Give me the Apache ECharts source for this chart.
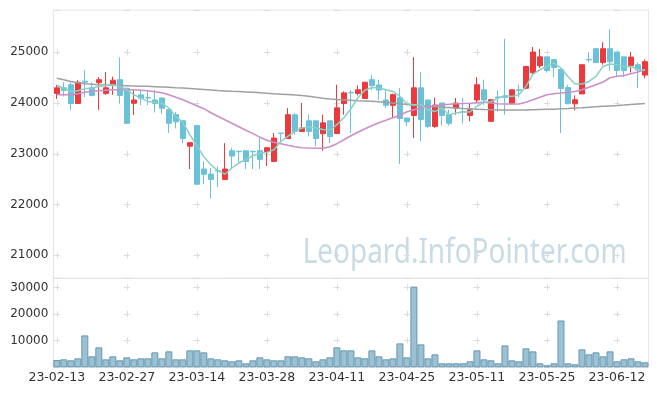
<!DOCTYPE html>
<html><head><meta charset="utf-8">
<script src="https://cdn.jsdelivr.net/npm/echarts@6/dist/echarts.min.js"></script>
<style>html,body{margin:0;padding:0;background:#fff}#c{width:657px;height:396px}</style>
</head><body><div id="c"></div>
<script>
const dates = ['23-02-13','23-02-14','23-02-15','23-02-16','23-02-17','23-02-20','23-02-21','23-02-22','23-02-23','23-02-24','23-02-27','23-02-28',
'23-03-02','23-03-03','23-03-06','23-03-07','23-03-08','23-03-09','23-03-10','23-03-13','23-03-14','23-03-15','23-03-16','23-03-17','23-03-20','23-03-21','23-03-22','23-03-23','23-03-24','23-03-27','23-03-28','23-03-29','23-03-30','23-03-31',
'23-04-03','23-04-04','23-04-05','23-04-06','23-04-07','23-04-10','23-04-11','23-04-12','23-04-13','23-04-14','23-04-17','23-04-18','23-04-19','23-04-20','23-04-21','23-04-24','23-04-25','23-04-26','23-04-27','23-04-28',
'23-05-02','23-05-03','23-05-04','23-05-08','23-05-09','23-05-10','23-05-11','23-05-12','23-05-15','23-05-16','23-05-17','23-05-18','23-05-19','23-05-22','23-05-23','23-05-24','23-05-25','23-05-26','23-05-30','23-05-31',
'23-06-01','23-06-02','23-06-05','23-06-07','23-06-08','23-06-09','23-06-12','23-06-13','23-06-14','23-06-15','23-06-16'];

const opens = [24190,24300,24360,23990,24430,24300,24400,24190,24355,24460,24290,23995,24160,24110,24060,24100,23870,23770,23650,23150,23555,22700,22600,22670,22495,23060,23050,23060,23050,23060,23045,22850,23410,23300,23770,23440,23650,23650,23395,23650,23400,23990,24210,24190,24090,24460,24355,24060,23955,24105,23705,23755,24300,24060,23540,24000,23770,23900,23830,23755,24060,24260,23640,24120,24140,23985,24260,24290,24600,24735,24910,24855,24660,24305,23985,24180,24860,25070,24800,25070,25005,24910,24735,24755,24550];
const closes = [24300,24250,23990,24410,24410,24150,24460,24300,24450,24150,23600,24060,24090,24100,23990,23895,23600,23630,23300,23220,22400,22595,22495,22660,22700,22955,23040,22850,23040,22890,23120,23310,23400,23770,23440,23510,23440,23300,23610,23340,23905,24200,24200,24260,24410,24345,24255,23955,24165,23695,23630,24300,23675,23540,23960,23755,23600,24000,23820,23870,24360,24060,24065,24100,24110,24260,24250,24720,25005,24910,24640,24700,24285,23985,24065,24755,24850,24800,25070,24815,24640,24640,24905,24650,24815];
const lows = [24080,24130,23860,23990,24120,24130,23865,24160,24160,23990,23590,23765,23960,23960,23815,23790,23410,23500,23210,22700,22390,22400,22115,22345,22495,22700,22800,22700,22700,22700,22760,22850,23210,23300,23375,23440,23340,23145,23060,23210,23400,23770,23410,24150,24090,24260,24060,23900,23705,22800,23540,23310,23250,23510,23510,23555,23555,23770,23600,23640,24000,23965,23635,23830,23770,23985,24110,24270,24555,24690,24600,24510,23410,23985,23860,24180,24800,24800,24755,24640,24510,24510,24600,24295,24490];
const highs = [24360,24410,24410,24450,24650,24410,24510,24610,24520,24900,24300,24250,24255,24255,24255,24100,23870,23820,23670,23220,23560,22850,22720,22750,23210,23115,23060,23060,23060,23310,23120,23410,23410,23900,23800,24000,23770,23650,23770,23650,24360,24230,24255,24345,24420,24555,24460,24255,24185,24295,23705,24905,24610,24060,24105,24000,23870,24100,24100,24000,24510,24460,24070,24250,25265,24265,24360,24730,25105,25065,24910,24855,24660,24360,24150,24760,25005,25070,25200,25455,25005,24910,25005,24800,24855];
const volumes = [2740,3000,2625,3375,12000,4125,7500,3000,4125,2625,3750,3000,3375,3375,5625,3375,6000,3000,3000,6375,6375,5625,3375,3000,2625,2250,2625,1500,2625,3750,3000,2625,2625,4125,4125,3750,3375,2250,3000,3750,7500,6375,6375,3750,3375,6375,4125,3000,3375,9000,3750,30375,8625,3375,4875,1500,1500,1500,1500,2250,6375,3000,2625,1500,8250,2625,2250,7125,6000,1500,750,1500,17625,1500,1125,6750,4875,5625,4125,6000,2250,3000,3375,2250,1875];
const ma5 = [24347,24295,24228,24242,24282,24295,24327,24347,24360,24327,24262,24163,24098,24032,24012,24000,23902,23736,23618,23376,23159,22943,22786,22667,22598,22720,22818,22884,22962,23016,23028,23081,23244,23343,23441,23508,23527,23508,23480,23468,23573,23711,23888,24104,24252,24307,24295,24262,24228,24130,23986,23967,23967,23868,23835,23902,23770,23803,23823,23823,23933,24020,24026,24098,24144,24130,24163,24327,24571,24656,24721,24788,24689,24524,24374,24374,24425,24524,24721,24768,24754,24721,24721,24656,24656];
const ma20 = [24163,24163,24163,24183,24213,24232,24242,24252,24262,24262,24262,24262,24252,24242,24222,24203,24163,24114,24065,24006,23947,23888,23809,23740,23671,23602,23533,23464,23396,23327,23268,23228,23199,23169,23140,23120,23114,23110,23110,23140,23199,23277,23356,23425,23494,23553,23612,23661,23711,23760,23829,23868,23898,23917,23947,23967,23976,23986,23990,23996,24006,24016,24000,23986,23980,23980,23980,24016,24065,24114,24163,24183,24197,24213,24228,24262,24311,24360,24413,24498,24528,24543,24577,24610,24656];
const ma60 = [24488,24459,24425,24400,24380,24370,24360,24354,24349,24345,24341,24337,24333,24329,24323,24317,24309,24301,24295,24286,24276,24266,24256,24246,24238,24230,24226,24219,24211,24203,24193,24183,24175,24167,24158,24150,24134,24114,24095,24079,24069,24061,24053,24045,24039,24033,24026,24014,24000,23986,23970,23957,23947,23935,23927,23919,23911,23902,23894,23888,23880,23872,23868,23864,23862,23862,23862,23864,23868,23872,23876,23880,23886,23892,23900,23907,23919,23927,23935,23943,23951,23961,23972,23982,23992];
const priceTicks = [21000,22000,23000,24000,25000];
const volumeTicks = [10000,20000,30000];
const watermark = 'Leopard.InfoPointer.com';

const candles = dates.map((d, i) => [opens[i], closes[i], lows[i], highs[i]]);
const FONT = 'DejaVu Sans';
const crossColor = '#dcdcdc';

const chart = echarts.init(document.getElementById('c'), null, {renderer: 'canvas'});
chart.setOption({
  animation: false,
  backgroundColor: '#fff',
  grid: [
    {left: 53.3, right: 8.5, top: 10, height: 268.3, show: true, borderColor: '#e6e6e6', borderWidth: 1, backgroundColor: 'transparent'},
    {left: 53.3, right: 8.5, top: 278.3, bottom: 28.7, show: true, borderColor: '#e6e6e6', borderWidth: 1, backgroundColor: 'transparent'}
  ],
  xAxis: [
    {type: 'category', data: dates, gridIndex: 0, boundaryGap: true,
     axisLine: {show: false}, axisTick: {show: false}, axisLabel: {show: false},
     splitLine: {show: true, interval: 9, alignWithLabel: true, lineStyle: {color: crossColor, width: 1, type: [6, 44.8], dashOffset: 11.5}}},
    {type: 'category', data: dates, gridIndex: 1, boundaryGap: true,
     axisLine: {show: false}, axisTick: {show: false},
     axisLabel: {interval: 9, color: '#333', fontSize: 12.5, fontFamily: FONT, margin: 4},
     splitLine: {show: true, interval: 9, alignWithLabel: true, lineStyle: {color: crossColor, width: 1, type: [6, 20.65], dashOffset: 20.65}}}
  ],
  yAxis: [
    {type: 'value', gridIndex: 0, min: 20547, max: 25833, splitNumber: 5, scale: true,
     axisLine: {show: true, lineStyle: {color: '#e6e6e6'}}, axisTick: {show: false},
     axisLabel: {color: '#333', fontSize: 12, fontFamily: FONT, margin: 5,
       formatter: v => priceTicks.indexOf(Math.round(v)) >= 0 ? String(Math.round(v)) : ''},
     splitLine: {show: true, lineStyle: {color: crossColor, width: 1, type: [6, 64.02], dashOffset: 69.52}}},
    {type: 'value', gridIndex: 1, min: 0, max: 33500, interval: 10000,
     axisLine: {show: true, lineStyle: {color: '#e6e6e6'}}, axisTick: {show: false},
     axisLabel: {color: '#333', fontSize: 12, fontFamily: FONT, margin: 5,
       formatter: v => volumeTicks.indexOf(Math.round(v)) >= 0 ? String(Math.round(v)) : ''},
     splitLine: {show: true, lineStyle: {color: crossColor, width: 1, type: [6, 64.02], dashOffset: 69.52}}}
  ],
  graphic: [{
    type: 'text', x: 302.7, y: 253, scaleX: 0.821, z: 0, silent: true,
    style: {text: watermark, x: 0, y: 0, align: 'left', verticalAlign: 'middle',
      font: '34px "Noto Sans"', fill: '#c9dbe6'}
  }],
  series: [
    {type: 'candlestick', xAxisIndex: 0, yAxisIndex: 0, data: candles, barWidth: 5,
     itemStyle: {color: '#ec3a3c', color0: '#6ac2d9', borderColor: '#ec3a3c', borderColor0: '#6ac2d9', borderWidth: 1}},
    {type: 'line', xAxisIndex: 0, yAxisIndex: 0, data: ma60, showSymbol: false, lineStyle: {color: '#a0a0a0', width: 1.5}},
    {type: 'line', xAxisIndex: 0, yAxisIndex: 0, data: ma20, showSymbol: false, lineStyle: {color: '#cc8ec9', width: 1.5}},
    {type: 'line', xAxisIndex: 0, yAxisIndex: 0, data: ma5, showSymbol: false, lineStyle: {color: '#8ccfc3', width: 1.5}},
    {type: 'bar', xAxisIndex: 1, yAxisIndex: 1, data: volumes, barWidth: '100%',
     itemStyle: {color: '#9bc1d2', borderColor: '#6797b1', borderWidth: 1}}
  ]
});
</script></body></html>
